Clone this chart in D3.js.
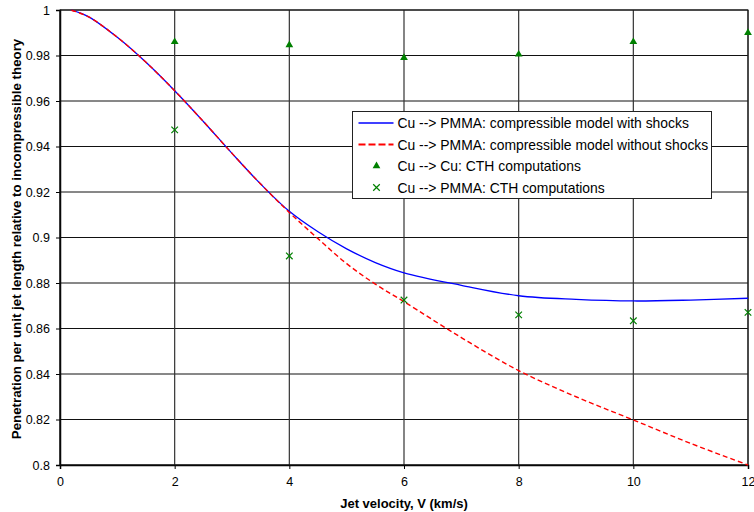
<!DOCTYPE html>
<html>
<head>
<meta charset="utf-8">
<script src="https://cdn.jsdelivr.net/npm/d3@7"></script>
<style>
  body { margin: 0; background: #fff; }
  svg { display: block; font-family: "Liberation Sans", Arial, sans-serif; }
</style>
</head>
<body>
<div class="chart"></div>
<script>
// curve data
const velocity = [0.2, 0.5, 1, 1.5, 2, 2.5, 3, 3.5, 4, 4.5, 5, 5.5, 6, 7, 8, 9, 10, 11, 12]
const withShocks = [0.9999, 0.997, 0.988, 0.977, 0.9645, 0.951, 0.937, 0.9235, 0.9115, 0.9025, 0.895, 0.889, 0.8845, 0.879, 0.8744, 0.8728, 0.8721, 0.8725, 0.8733]
const withoutShocks = [0.9999, 0.997, 0.988, 0.977, 0.9645, 0.951, 0.937, 0.9235, 0.911, 0.8995, 0.8885, 0.8795, 0.8718, 0.856, 0.8415, 0.830, 0.8198, 0.8095, 0.800]

// CTH points
const cthVel = [2, 4, 6, 8, 10, 12]
const cuCu = [0.986, 0.9846, 0.979, 0.9805, 0.986, 0.990]
const cuPmma = [0.9473, 0.8919, 0.8725, 0.866, 0.8634, 0.8671]

const xTicks = [0, 2, 4, 6, 8, 10, 12]
const yTicks = [0.8, 0.82, 0.84, 0.86, 0.88, 0.9, 0.92, 0.94, 0.96, 0.98, 1]

const legendLabels = [
    "Cu --> PMMA: compressible model with shocks",
    "Cu --> PMMA: compressible model without shocks",
    "Cu --> Cu: CTH computations",
    "Cu --> PMMA: CTH computations"
]

const margin = ({top: 10, right: 6, bottom: 47, left: 60})
const width = 754 - margin.left - margin.right
const height = 512 - margin.top - margin.bottom

const svg = d3.select('.chart').append('svg')
    .attr("width", 754)
    .attr("height", 512)

const g = svg.append("g")
    .attr("transform", `translate(${margin.left},${margin.top})`)

const xScale = d3.scaleLinear().domain([0, 12]).range([0, width])
const yScale = d3.scaleLinear().domain([0.8, 1]).range([height, 0])

// gridlines
g.append("g").selectAll("line")
    .data(yTicks)
    .join("line")
    .attr("x1", 0).attr("x2", width)
    .attr("y1", d => yScale(d)).attr("y2", d => yScale(d))
    .attr("stroke", "#111")
    .attr("stroke-width", 1)

g.append("g").selectAll("line")
    .data(xTicks)
    .join("line")
    .attr("y1", 0).attr("y2", height)
    .attr("x1", d => xScale(d)).attr("x2", d => xScale(d))
    .attr("stroke", "#333")
    .attr("stroke-width", 1.2)

// AXES
const xAxis = d3.axisBottom(xScale)
    .tickValues(xTicks)
    .tickSize(4)
    .tickPadding(6)
    .tickFormat(d3.format("d"))

const yAxis = d3.axisLeft(yScale)
    .tickValues(yTicks)
    .tickSize(4)
    .tickPadding(6)
    .tickFormat(d => d === 1 ? "1" : d3.format("")(+d.toFixed(2)))

const gx = g.append("g")
    .attr("transform", `translate(0,${height})`)
    .call(xAxis)
const gy = g.append("g").call(yAxis)

;[gx, gy].forEach(a => {
    a.selectAll("text").attr("font-size", 12.5).attr("fill", "#000")
        .attr("font-family", "Liberation Sans, Arial, sans-serif")
    a.selectAll("line").attr("stroke", "#000")
    a.select(".domain").attr("stroke", "#000").attr("stroke-width", 1.5)
})
gx.selectAll("text").attr("dy", "0.85em")

// plot frame
g.append("rect")
    .attr("width", width).attr("height", height)
    .attr("fill", "none").attr("stroke", "#111").attr("stroke-width", 1)

// CURVES
const line = d3.line()
    .x((d, i) => xScale(velocity[i]))
    .y(d => yScale(d))
    .curve(d3.curveCatmullRom.alpha(0.5))

g.append("path")
    .datum(withShocks)
    .attr("d", line)
    .attr("fill", "none")
    .attr("stroke", "#0000ff")
    .attr("stroke-width", 1.3)

g.append("path")
    .datum(withoutShocks)
    .attr("d", line)
    .attr("fill", "none")
    .attr("stroke", "#ff0000")
    .attr("stroke-width", 1.4)
    .attr("stroke-dasharray", "5,3")

// MARKERS
const tri = d3.symbol().type(d3.symbolTriangle).size(26)

g.append("g").selectAll("path")
    .data(cuCu)
    .join("path")
    .attr("d", tri)
    .attr("transform", (d, i) => `translate(${xScale(cthVel[i])},${yScale(d)})`)
    .attr("fill", "#008000")

const cross = d3.symbol().type(d3.symbolX).size(30)

g.append("g").selectAll("path")
    .data(cuPmma)
    .join("path")
    .attr("d", cross)
    .attr("transform", (d, i) => `translate(${xScale(cthVel[i])},${yScale(d)})`)
    .attr("fill", "none")
    .attr("stroke", "#008000")
    .attr("stroke-width", 1.2)

// AXIS TITLES
svg.append("text")
    .attr("x", margin.left + width / 2)
    .attr("y", 508)
    .attr("text-anchor", "middle")
    .attr("font-size", 13)
    .attr("font-weight", "bold")
    .text("Jet velocity, V (km/s)")

svg.append("text")
    .attr("transform", `translate(20.5,${margin.top + height / 2 + 1.5}) rotate(-90)`)
    .attr("text-anchor", "middle")
    .attr("font-size", 13.3)
    .attr("font-weight", "bold")
    .text("Penetration per unit jet length relative to incompressible theory")

// LEGEND
const legend = svg.append("g").attr("transform", "translate(352.5,111.5)")

legend.append("rect")
    .attr("width", 359).attr("height", 87)
    .attr("fill", "#fff").attr("stroke", "#222").attr("stroke-width", 1)

const rowY = [11.5, 33, 54.5, 76]

legend.append("line")
    .attr("x1", 6).attr("x2", 41).attr("y1", rowY[0]).attr("y2", rowY[0])
    .attr("stroke", "#0000ff").attr("stroke-width", 1.3)

legend.append("line")
    .attr("x1", 6).attr("x2", 41).attr("y1", rowY[1]).attr("y2", rowY[1])
    .attr("stroke", "#ff0000").attr("stroke-width", 2).attr("stroke-dasharray", "7,3")

legend.append("path")
    .attr("d", tri)
    .attr("transform", `translate(24,${rowY[2]})`)
    .attr("fill", "#008000")

legend.append("path")
    .attr("d", cross)
    .attr("transform", `translate(24,${rowY[3]})`)
    .attr("fill", "none").attr("stroke", "#008000").attr("stroke-width", 1.2)

legend.selectAll("text.lab")
    .data(legendLabels)
    .join("text")
    .attr("class", "lab")
    .attr("x", 45)
    .attr("y", (d, i) => rowY[i] + 5)
    .attr("font-size", 13.9)
    .text(d => d)
</script>
</body>
</html>
